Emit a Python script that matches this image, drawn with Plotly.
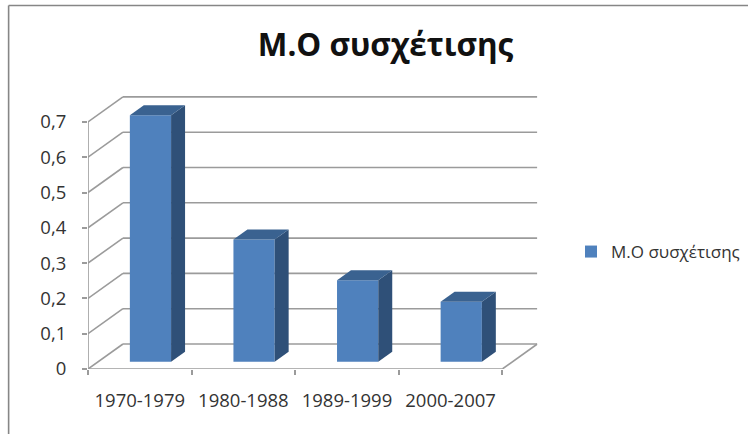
import plotly.graph_objects as go

categories = ["1970-1979", "1980-1988", "1989-1999", "2000-2007"]
values = [0.698, 0.346, 0.231, 0.17]
y_ticks = [0, 0.1, 0.2, 0.3, 0.4, 0.5, 0.6, 0.7]
title = "Μ.Ο συσχέτισης"

W, H = 749, 434
L, R, T, B = 88, 538, 95, 369
MR = 5
PW = W - L - MR
UNIT_X = 103.75          # px per category
UNIT_Y = 353.0           # px per 1.0 of value
WALL_DX = 35 / UNIT_X    # depth of the wall, in data units
WALL_DY = 25 / UNIT_Y
BAR_W = 0.398
BAR_OX = 0.103           # bars stand slightly inside the floor
BAR_OY = 7.3 / UNIT_Y
BAR_DX = 14 / UNIT_X     # bar depth
BAR_DY = 10 / UNIT_Y
n = len(categories)
x0, x1 = -0.5, n - 0.5

FRONT, SIDE, TOP = "#4F81BD", "#2F5078", "#3A6290"
GRID = "#9B9B9B"
FONT = "Open Sans"
TXT = "#333333"

fig = go.Figure()

# front faces
fig.add_trace(go.Bar(
    x=[i + BAR_OX for i in range(n)], y=values, base=BAR_OY, width=BAR_W,
    marker=dict(color=FRONT, line=dict(width=0)), name=title, showlegend=True))

# side and top faces, derived from the values
for i, v in enumerate(values):
    xl = i + BAR_OX - BAR_W / 2
    xr = i + BAR_OX + BAR_W / 2
    yb = BAR_OY
    yt = BAR_OY + v
    fig.add_trace(go.Scatter(
        x=[xr, xr + BAR_DX, xr + BAR_DX, xr, xr],
        y=[yb, yb + BAR_DY, yt + BAR_DY, yt, yb],
        mode="lines", fill="toself", fillcolor=SIDE, line=dict(width=0),
        showlegend=False, hoverinfo="skip"))
    fig.add_trace(go.Scatter(
        x=[xl, xl + BAR_DX, xr + BAR_DX, xr, xl],
        y=[yt, yt + BAR_DY, yt + BAR_DY, yt, yt],
        mode="lines", fill="toself", fillcolor=TOP, line=dict(width=0),
        showlegend=False, hoverinfo="skip"))

shapes = []
def seg(a, b, c, d):
    shapes.append(dict(type="line", xref="x", yref="y", x0=a, y0=b, x1=c, y1=d,
                       layer="below", line=dict(color=GRID, width=1.6)))

# walls and floor
for t in y_ticks:
    seg(x0, t, x0 + WALL_DX, t + WALL_DY)
    seg(x0 + WALL_DX, t + WALL_DY, x1 + WALL_DX, t + WALL_DY)
seg(x0, 0, x0, y_ticks[-1])
seg(x0, 0, x1, 0)
seg(x1, 0, x1 + WALL_DX, WALL_DY)

# chart frame (top and left only, as in the picture)
fx, fy = 8.5, 5.5
px = lambda p: (p - L) / PW
py = lambda p: (B - p) / (B - T)
shapes.append(dict(type="line", xref="paper", yref="paper", x0=px(fx), y0=py(fy), x1=px(W), y1=py(fy),
                   line=dict(color="#868686", width=1.6)))
shapes.append(dict(type="line", xref="paper", yref="paper", x0=px(fx), y0=py(fy), x1=px(fx), y1=py(H),
                   line=dict(color="#868686", width=1.6)))

fig.update_layout(
    width=W, height=H,
    margin=dict(l=L, r=MR, t=T, b=H - B, pad=0),
    paper_bgcolor="white", plot_bgcolor="white",
    separators=", ",
    barmode="overlay",
    font=dict(family=FONT, color=TXT, size=16),
    shapes=shapes,
    title=dict(text=title, x=385.5 / W, xanchor="center", y=1 - 45 / H, yanchor="middle",
               font=dict(family=FONT, size=31.4, color="#111111", weight="bold")),
    legend=dict(x=px(571), y=py(252), xanchor="left", yanchor="middle",
                font=dict(family=FONT, size=17, color=TXT), bgcolor="rgba(0,0,0,0)",
                itemclick=False, itemdoubleclick=False),
    xaxis=dict(domain=[0, (R - L) / PW], range=[x0, x1 + WALL_DX], tickmode="array",
               tickvals=list(range(n)), ticktext=categories,
               ticks="outside", ticklen=5, tickcolor="rgba(0,0,0,0)",
               showgrid=False, zeroline=False, showline=False,
               ticklabelstandoff=10, tickfont=dict(family=FONT, size=18.5, color=TXT),
               minor=dict(tickmode="array", tickvals=[i - 0.5 for i in range(n + 1)],
                          ticks="outside", ticklen=5, tickcolor=GRID, tickwidth=1.6, showgrid=False)),
    yaxis=dict(range=[0, (B - T) / UNIT_Y], tickmode="array",
               tickvals=y_ticks, ticktext=[str(t).replace(".", ",") for t in y_ticks],
               ticks="outside", ticklen=5, tickcolor=GRID, tickwidth=1.6,
               showgrid=False, zeroline=False, showline=False,
               ticklabelstandoff=12,
               tickfont=dict(family=FONT, size=18.5, color=TXT)),
)

fig.write_html("out.html", config={"displayModeBar": False},
               post_script="document.body.style.margin='0';")
